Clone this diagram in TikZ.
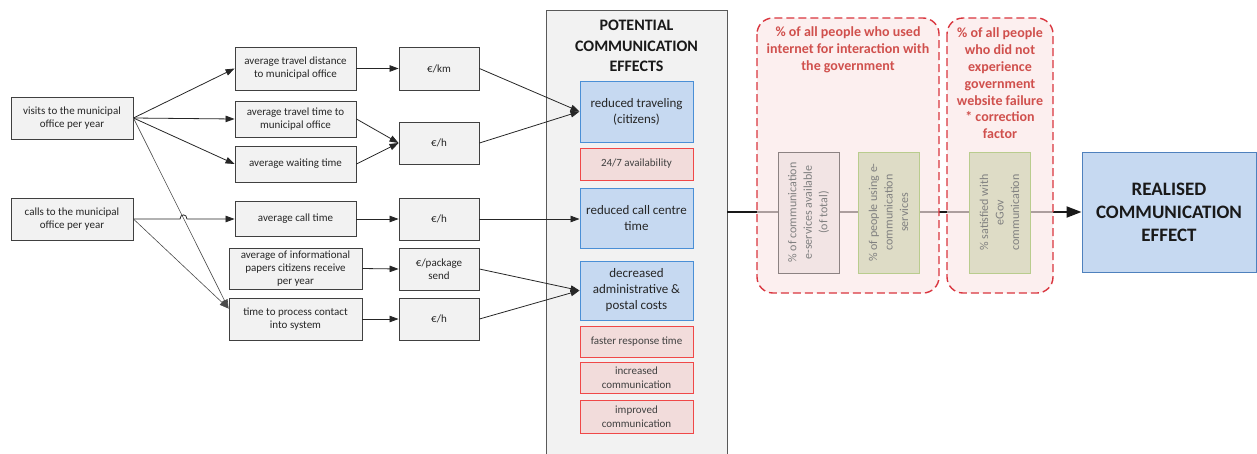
\documentclass[tikz,border=0pt]{standalone}
\usepackage{fontspec}
\setmainfont{Carlito}
\usetikzlibrary{arrows.meta,calc}
\definecolor{boxfill}{HTML}{F2F2F2}
\definecolor{boxline}{HTML}{404040}
\definecolor{bluefill}{HTML}{C6D9F1}
\definecolor{blueline}{HTML}{4A8FD6}
\definecolor{redfill}{HTML}{F2DCDB}
\definecolor{redline}{HTML}{F04848}
\definecolor{dashfill}{HTML}{FBE6E6}
\definecolor{dashline}{HTML}{D9353E}
\definecolor{dashtext}{HTML}{D0504D}
\definecolor{vonefill}{HTML}{F2E4E4}
\definecolor{voneline}{HTML}{8C8282}
\definecolor{vtwofill}{HTML}{DEDCC6}
\definecolor{vtwoline}{HTML}{B9CC8E}
\definecolor{realline}{HTML}{4F81BD}
\tikzset{
  lbox/.style={draw=boxline, fill=boxfill, line width=0.9pt, align=center,
    font=\fontsize{11}{13}\selectfont, text=black!85, inner sep=0pt},
  bbox/.style={draw=blueline, fill=bluefill, line width=1pt, align=center,
    font=\fontsize{13}{16}\selectfont, text=black!85, minimum width=113pt, inner sep=0pt},
  rbox/.style={draw=redline, fill=redfill, line width=1pt, align=center,
    font=\fontsize{11}{13.5}\selectfont, text=black!75, minimum width=113pt, inner sep=0pt},
  conn/.style={-{Triangle[length=9pt,width=6.5pt]}, line width=0.8pt, black!85},
  thinconn/.style={-{Triangle[length=9pt,width=6.5pt]}, line width=0.6pt, black!70},
  dashbox/.style={draw=dashline, fill=dashfill, fill opacity=0.65, line width=1.4pt,
    dash pattern=on 8pt off 4pt, rounded corners=16pt},
  dashtitle/.style={text=dashtext, font=\bfseries\fontsize{14}{16.8}\selectfont, align=center},
  vbox/.style={rotate=90, align=center, minimum width=121pt, minimum height=61pt,
    inner sep=0pt, line width=1pt, text=black!50, font=\fontsize{12}{15.5}\selectfont},
}
\begin{document}
\begin{tikzpicture}[x=1pt,y=-1pt]
\useasboundingbox (0,0) rectangle (1257,453);
% column
\node[draw=black!65, fill=boxfill, line width=0.9pt, minimum width=181pt, minimum height=470pt, inner sep=0pt] (col) at (636.5,245) {};
\node[font=\bfseries\fontsize{16}{20.5}\selectfont, align=center, text=black!90] (coltitle) at (636.5,46) {POTENTIAL\\COMMUNICATION\\EFFECTS};
% left boxes
\node[lbox, minimum width=122pt, minimum height=42pt] (visits) at (72,118) {visits to the municipal\\office per year};
\node[lbox, minimum width=122pt, minimum height=42pt] (calls) at (72,219) {calls to the municipal\\office per year};
\node[lbox, minimum width=121pt, minimum height=43pt] (trdist) at (295.5,68.5) {average travel distance\\to municipal office};
\node[lbox, minimum width=121pt, minimum height=36pt] (trtime) at (295.5,119) {average travel time to\\municipal office};
\node[lbox, minimum width=121pt, minimum height=36pt] (wait) at (295.5,164) {average waiting time};
\node[lbox, minimum width=121pt, minimum height=35pt] (callt) at (295.5,219) {average call time};
\node[lbox, minimum width=133pt, minimum height=41pt] (info) at (295.5,268.5) {average of informational\\papers citizens receive\\per year};
\node[lbox, minimum width=133pt, minimum height=42pt] (proc) at (295.5,319) {time to process contact\\into system};
% euro boxes
\node[lbox, minimum width=80pt, minimum height=43pt] (ekm) at (439,68.5) {€/km};
\node[lbox, minimum width=80pt, minimum height=42pt] (ehone) at (439,143) {€/h};
\node[lbox, minimum width=80pt, minimum height=42pt] (ehtwo) at (439,219) {€/h};
\node[lbox, minimum width=80pt, minimum height=42pt] (epkg) at (439,269) {€/package\\send};
\node[lbox, minimum width=80pt, minimum height=42pt] (ehthree) at (439,319) {€/h};
% effects
\node[bbox, minimum height=61pt] (redtrav) at (636.5,111.5) {reduced traveling\\(citizens)};
\node[rbox, minimum height=32pt] (avail) at (636.5,164) {24/7 availability};
\node[bbox, minimum height=60pt] (redcall) at (636.5,218) {reduced call centre\\time};
\node[bbox, minimum height=59pt] (decr) at (636.5,290.5) {decreased\\administrative \&\\postal costs};
\node[rbox, minimum height=31pt] (faster) at (636.5,341.5) {faster response time};
\node[rbox, minimum height=31pt] (incr) at (636.5,377.5) {increased\\communication};
\node[rbox, minimum height=33pt] (impr) at (636.5,416.5) {improved\\communication};
% realised
\node[draw=realline, fill=bluefill, line width=1pt, minimum width=174pt, minimum height=120pt,
  align=center, font=\bfseries\fontsize{19}{23}\selectfont, text=black!90, inner sep=0pt] (real) at (1169,212) {REALISED\\COMMUNICATION\\EFFECT};
% main line
\draw[line width=2pt, black!90, -{Triangle[length=15pt,width=11pt]}] (real.west -| col.east) -- (real.west);
% dashed boxes
\path[dashbox] (757,18) rectangle (939,293);
\path[dashbox] (947,18) rectangle (1053,293);
\node[dashtitle] (tone) at (848,50) {\% of all people who used\\internet for interaction with\\the government};
\node[dashtitle] (ttwo) at (1000,83.5) {\% of all people\\who did not\\experience\\government\\website failure\\* correction\\factor};
% vertical boxes
\node[vbox, draw=voneline, fill=vonefill] (vone) at (808.5,212.5) {\% of communication\\e-services available\\(of total)};
\node[vbox, draw=vtwoline, fill=vtwofill] (vtwo) at (888.5,212.5) {\% of people using e-\\communication\\services};
\node[vbox, draw=vtwoline, fill=vtwofill] (vthree) at (999.5,212.5) {\% satisfied with\\eGov\\communication};
% connectors
\draw[conn] (visits.east) -- (trdist.west);
\draw[conn] (visits.east) -- (trtime.west);
\draw[conn] (visits.east) -- (wait.west);
\draw[thinconn] (visits.east) -- ([yshift=-11pt]proc.north west);
\draw[thinconn] (calls.east) -- ([yshift=-11pt]proc.north west);
\draw[conn] (calls.east) -- (180,219) .. controls (180,213.5) and (187,213.5) .. (187,219) -- (callt.west);
\draw[conn] (trdist.east) -- (ekm.west);
\draw[conn] (trtime.east) -- (ehone.west);
\draw[conn] (wait.east) -- (ehone.west);
\draw[conn] (callt.east) -- (ehtwo.west);
\draw[conn] (info.east) -- (epkg.west);
\draw[conn] (proc.east) -- (ehthree.west);
\draw[conn] (ekm.east) -- (redtrav.west);
\draw[conn] (ehone.east) -- (redtrav.west);
\draw[conn] (ehtwo.east) -- (ehtwo.east -| redcall.west);
\draw[conn] (epkg.east) -- (decr.west);
\draw[conn] (ehthree.east) -- (decr.west);
\end{tikzpicture}
\end{document}
